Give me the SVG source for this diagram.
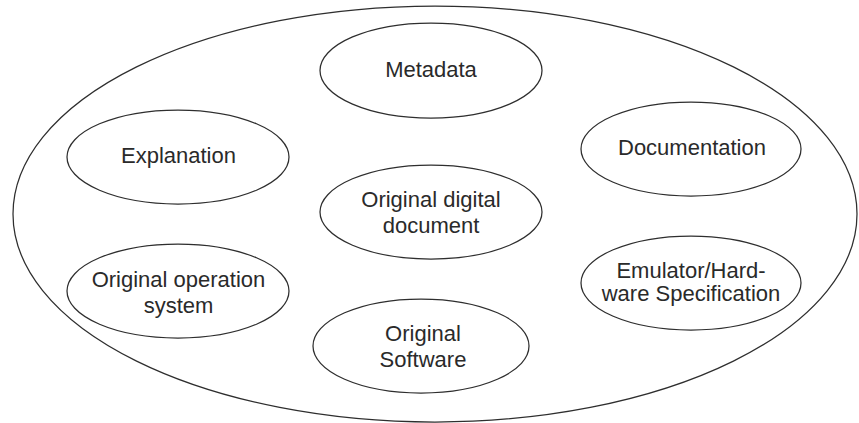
<svg xmlns="http://www.w3.org/2000/svg" width="859" height="423" viewBox="0 0 859 423">
  <style>
    .shape { fill: #ffffff; stroke: #2e2e2e; stroke-width: 1.25; }
    .label { font-family: "Liberation Sans", Arial, sans-serif; font-size: 22px; fill: #2a2a2a; text-anchor: middle; }
  </style>
  <rect x="0" y="0" width="859" height="423" fill="#ffffff"/>
  <g id="container">
    <ellipse class="shape" cx="435" cy="214" rx="422" ry="208"/>
  </g>
  <g id="connectors"></g>
  <g id="node-metadata">
    <ellipse class="shape" cx="431" cy="70.5" rx="111" ry="47.5"/>
    <text class="label" x="431" y="77">Metadata</text>
  </g>
  <g id="node-explanation">
    <ellipse class="shape" cx="178" cy="157" rx="111" ry="47"/>
    <text class="label" x="178.5" y="162.7">Explanation</text>
  </g>
  <g id="node-documentation">
    <ellipse class="shape" cx="691" cy="149" rx="110" ry="47"/>
    <text class="label" x="692" y="155">Documentation</text>
  </g>
  <g id="node-original-digital-document">
    <ellipse class="shape" cx="431" cy="212" rx="111" ry="47"/>
    <text class="label" x="431" y="206.7">Original digital</text>
    <text class="label" x="431" y="233.3">document</text>
  </g>
  <g id="node-original-operation-system">
    <ellipse class="shape" cx="178" cy="291" rx="111" ry="47"/>
    <text class="label" x="178.5" y="286.7">Original operation</text>
    <text class="label" x="178.5" y="312.7">system</text>
  </g>
  <g id="node-emulator">
    <ellipse class="shape" cx="691" cy="283" rx="110" ry="47"/>
    <text class="label" x="691" y="277.7">Emulator/Hard-</text>
    <text class="label" x="691" y="300.7">ware Specification</text>
  </g>
  <g id="node-original-software">
    <ellipse class="shape" cx="421" cy="346" rx="108" ry="47"/>
    <text class="label" x="423" y="340.7">Original</text>
    <text class="label" x="423" y="366.7">Software</text>
  </g>
</svg>
